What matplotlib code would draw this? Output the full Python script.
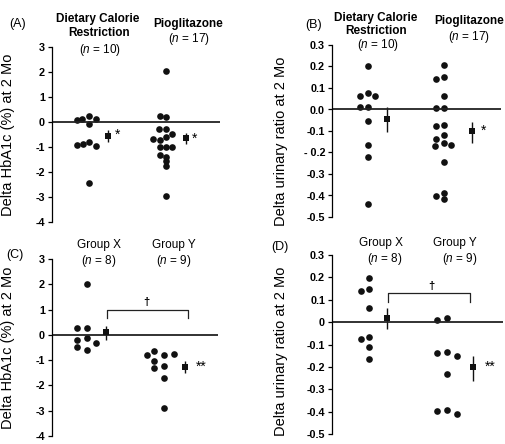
import numpy as np
import matplotlib
matplotlib.use("Agg")
import matplotlib.pyplot as plt

plt.rcParams['font.family'] = ['Liberation Sans', 'DejaVu Sans']
plt.rcParams['mathtext.fontset'] = 'custom'
plt.rcParams['mathtext.it'] = 'Liberation Sans:italic'
plt.rcParams['mathtext.rm'] = 'Liberation Sans'
plt.rcParams['mathtext.bf'] = 'Liberation Sans:bold'

W, H = 506, 444

# ---- data ----
# panel A: delta HbA1c
a_dcr = [0.09, 0.12, 0.22, -0.10, 0.12, -0.92, -0.90, -0.82, -0.98, -2.44]
a_dcr_dx = [-12.6, -7, 0, 0, 6.7, -12, -6, 0, 6.7, 0]
a_pio = [2.05, 0.23, 0.20, -0.30, -0.28, -0.50, -0.68, -0.72, -0.60,
         -1.00, -1.00, -1.00, -1.33, -1.40, -1.58, -1.78, -2.95]
a_pio_dx = [0, -6, 0, -7, 0, 6, -13, -6, 0, -6, 0, 6, -6, 0, 0, 0, 0]
a_means = [-0.56, -0.66]
a_err_hi = [-0.34, -0.43]
a_err_lo = [-0.79, -0.90]

# panel B: delta urinary ratio
b_dcr = [0.203, 0.063, 0.077, 0.063, 0.012, 0.012, -0.054, -0.166, -0.22, -0.44]
b_dcr_dx = [0, -7.7, 0, 7.7, -7.7, 0, 0, 0, 0, 0]
b_pio = [0.206, 0.141, 0.150, 0.062, 0.005, 0.009, -0.078, -0.070, -0.138,
         -0.120, -0.169, -0.154, -0.163, -0.246, -0.403, -0.390, -0.417]
b_pio_dx = [0, -8, 0, 0, -7.3, 0, -7.3, 0, -8, 0, -9, 0, 7.7, 0, -7.3, 0, 0]
b_means = [-0.042, -0.101]
b_err_hi = [0.010, -0.058]
b_err_lo = [-0.104, -0.158]

# panel C: delta HbA1c by group
c_x = [2.0, 0.26, 0.26, -0.20, -0.13, -0.34, -0.47, -0.58]
c_x_dx = [0, -10, 0, -10, 0, 9.4, -10, 0]
c_y = [-0.80, -0.65, -0.80, -0.75, -1.05, -1.30, -1.24, -1.70, -2.90]
c_y_dx = [-16.3, -9.7, 0, 10, -9.7, -9.7, 0, 0, 0]
c_means = [0.13, -1.26]
c_err_hi = [0.35, -1.04]
c_err_lo = [-0.21, -1.49]

# panel D: delta urinary ratio by group
d_x = [0.198, 0.138, 0.149, 0.064, -0.075, -0.066, -0.112, -0.167]
d_x_dx = [0, -8.6, 0, 0, -8.6, 0, 0, 0]
d_y = [0.008, 0.019, -0.140, -0.133, -0.152, -0.234, -0.397, -0.393, -0.412]
d_y_dx = [-10, -0.6, -10, -0.6, 9.4, -0.6, -10, -0.6, 9.4]
d_means = [0.019, -0.200]
d_err_hi = [0.064, -0.152]
d_err_lo = [-0.030, -0.263]

hba_ticks = [3, 2, 1, 0, -1, -2, -3, -4]
hba_labels = ['3', '2', '1', '0', '-1', '-2', '-3', '-4']
ur_ticks = [0.3, 0.2, 0.1, 0.0, -0.1, -0.2, -0.3, -0.4, -0.5]
ur_labels_b = ['0.3', '0.2', '0.1', '0.0', '-0.1', '- 0.2', '-0.3', '-0.4', '-0.5']
ur_labels_d = ['0.3', '0.2', '0.1', '0', '-0.1', '-0.2', '-0.3', '-0.4', '-0.5']

fig = plt.figure(figsize=(W / 100, H / 100), dpi=100)


def px_axes(left, right, top, bottom):
    return fig.add_axes([left / W, 1 - bottom / H, (right - left) / W, (bottom - top) / H])


def ftext(px, py, s, **kw):
    fig.text(px / W, 1 - py / H, s, ha='center', va='center', **kw)


def panel(ax, groups, centers, mean_x, means, hi, lo, ylim, ticks, labels, ylabel, lab_xy):
    width = ax.get_position().width * W
    ax.set_xlim(0, width)
    ax.set_ylim(*ylim)
    for (vals, dx), c in zip(groups, centers):
        ax.plot(c + np.array(dx), vals, 'o', color='#111111', ms=4.8, mew=0, clip_on=False)
    means = np.array(means)
    yerr = [means - np.array(lo), np.array(hi) - means]
    ax.errorbar(mean_x, means, yerr=yerr, fmt='s', color='#111111', ms=4.6,
                capsize=2.8, elinewidth=1.0, capthick=1.0, mew=0)
    ax.axhline(0, color='#222222', lw=1.3)
    for s in ['top', 'right', 'bottom']:
        ax.spines[s].set_visible(False)
    ax.spines['left'].set_linewidth(0.9)
    ax.set_xticks([])
    ax.set_yticks(ticks)
    ax.set_yticklabels(labels, fontsize=7.8, fontweight='bold')
    ax.tick_params(axis='y', length=3, width=0.9, pad=2)
    ax.set_ylabel(ylabel, fontsize=10.5)
    ax.yaxis.set_label_coords(*lab_xy)


# panel A
axA = px_axes(52, 220, 47, 222)
panel(axA, [(a_dcr, a_dcr_dx), (a_pio, a_pio_dx)], [37.3, 113.7], [56, 133.7],
      a_means, a_err_hi, a_err_lo, (-4, 3), hba_ticks, hba_labels,
      'Delta HbA1c (%) at 2 Mo', (-0.22, 0.5))
axA.text(66, -0.5, '*', fontsize=10, ha='center', va='center')
axA.text(143, -0.66, '*', fontsize=10, ha='center', va='center')

# panel B
axB = px_axes(332, 501, 45, 217)
panel(axB, [(b_dcr, b_dcr_dx), (b_pio, b_pio_dx)], [35.7, 111.7], [55, 140],
      b_means, b_err_hi, b_err_lo, (-0.5, 0.3), ur_ticks, ur_labels_b,
      'Delta urinary ratio at 2 Mo', (-0.26, 0.44))
axB.text(151.7, -0.1, '*', fontsize=10, ha='center', va='center')

# panel C
axC = px_axes(52, 218, 259, 436)
panel(axC, [(c_x, c_x_dx), (c_y, c_y_dx)], [35, 111.7], [54.4, 132.7],
      c_means, c_err_hi, c_err_lo, (-4, 3), hba_ticks, hba_labels,
      'Delta HbA1c (%) at 2 Mo', (-0.225, 0.5))
axC.plot([55, 55, 136, 136], [0.67, 1.0, 1.0, 0.67], color='#222222', lw=0.9)
axC.text(94.4, 1.28, '\u2020', fontsize=8, ha='center', va='center', fontweight='bold')
axC.text(149, -1.28, '**', fontsize=10, ha='center', va='center')

# panel D
axD = px_axes(332, 503, 255, 434)
panel(axD, [(d_x, d_x_dx), (d_y, d_y_dx)], [37.3, 115.3], [54.7, 140.7],
      d_means, d_err_hi, d_err_lo, (-0.5, 0.3), ur_ticks, ur_labels_d,
      'Delta urinary ratio at 2 Mo', (-0.257, 0.46))
axD.plot([56, 56, 138.3, 138.3], [0.09, 0.13, 0.13, 0.09], color='#222222', lw=0.9)
axD.text(99.3, 0.16, '\u2020', fontsize=8, ha='center', va='center', fontweight='bold')
axD.text(158, -0.2, '**', fontsize=10, ha='center', va='center')

# group headers
hb = dict(fontsize=8.5, fontweight='bold')
hn = dict(fontsize=8.5)
ftext(18, 24, '(A)', fontsize=9)
ftext(98, 19, 'Dietary Calorie', **hb)
ftext(99, 33, 'Restriction', **hb)
ftext(100, 50, '($\\mathit{n}$ = 10)', **hn)
ftext(188, 24, 'Pioglitazone', **hb)
ftext(189, 39, '($\\mathit{n}$ = 17)', **hn)

ftext(314, 25, '(B)', fontsize=9)
ftext(376, 18, 'Dietary Calorie', **hb)
ftext(376, 31, 'Restriction', **hb)
ftext(378, 45, '($\\mathit{n}$ = 10)', **hn)
ftext(469, 21, 'Pioglitazone', **hb)
ftext(469, 37, '($\\mathit{n}$ = 17)', **hn)

ftext(15, 255, '(C)', fontsize=9)
ftext(99, 245, 'Group X', **hn)
ftext(99, 261, '($\\mathit{n}$ = 8)', **hn)
ftext(174, 245, 'Group Y', **hn)
ftext(174, 261, '($\\mathit{n}$ = 9)', **hn)

ftext(280, 247, '(D)', fontsize=9)
ftext(381, 243, 'Group X', **hn)
ftext(385, 259, '($\\mathit{n}$ = 8)', **hn)
ftext(455, 243, 'Group Y', **hn)
ftext(460, 259, '($\\mathit{n}$ = 9)', **hn)

fig.savefig('out.png', dpi=100)
